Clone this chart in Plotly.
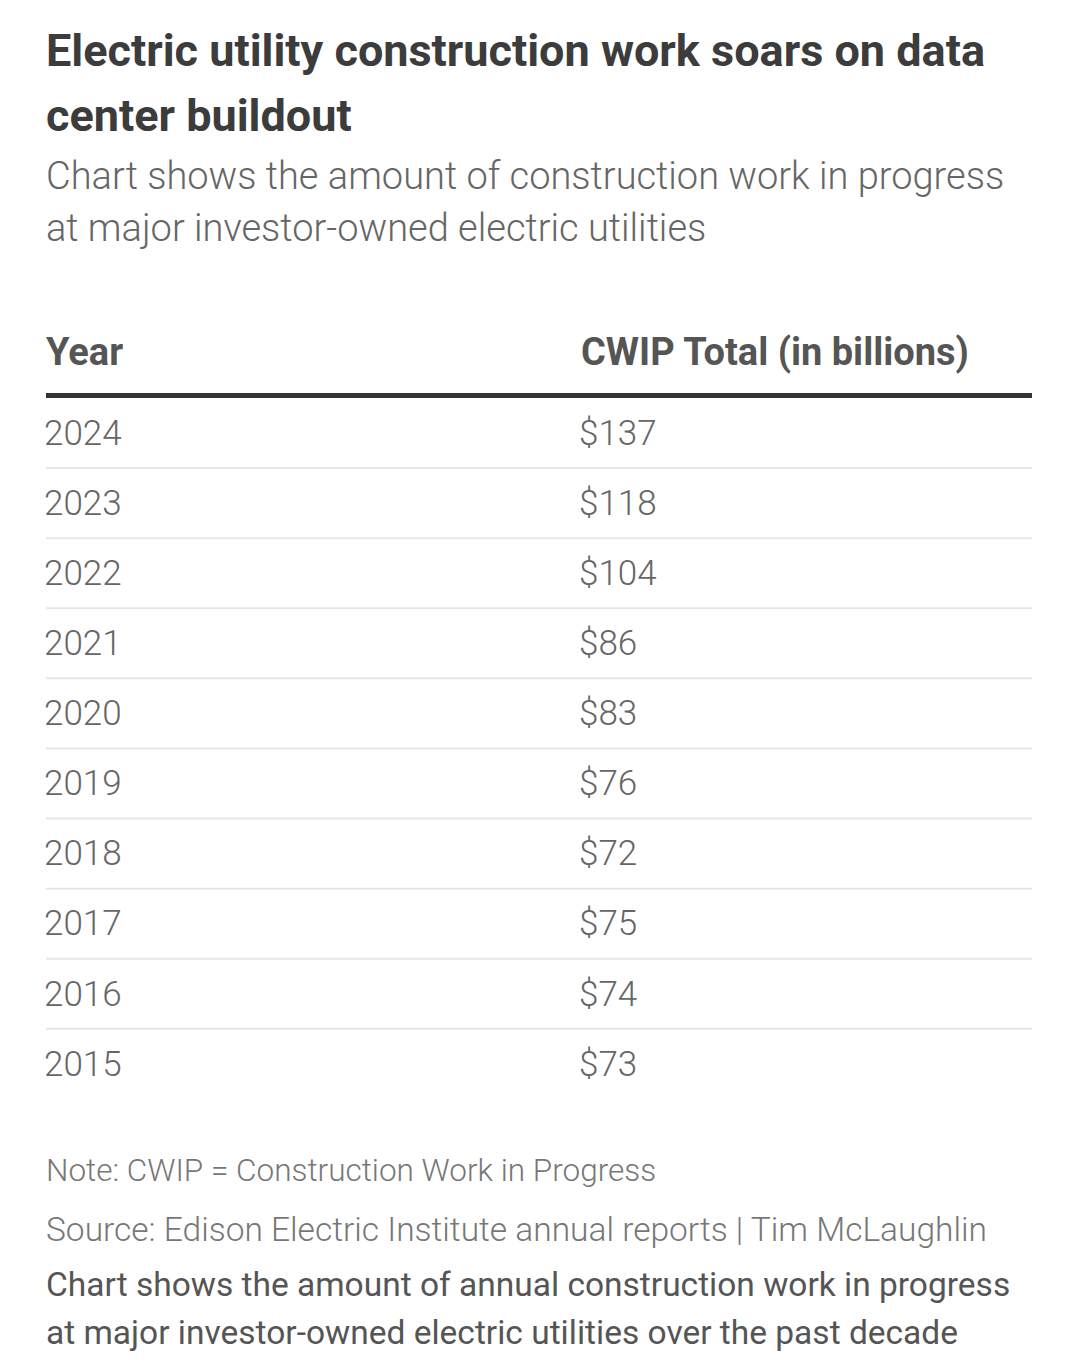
import plotly.graph_objects as go

# Text content
title_lines = ["Electric utility construction work soars on data", "center buildout"]
subtitle_lines = [
    "Chart shows the amount of construction work in progress",
    "at major investor-owned electric utilities",
]
columns = ["Year", "CWIP Total (in billions)"]
years = ["2024", "2023", "2022", "2021", "2020", "2019", "2018", "2017", "2016", "2015"]
cwip_billions = [137, 118, 104, 86, 83, 76, 72, 75, 74, 73]
note = "Note: CWIP = Construction Work in Progress"
source = "Source: Edison Electric Institute annual reports | Tim McLaughlin"
description_lines = [
    "Chart shows the amount of annual construction work in progress",
    "at major investor-owned electric utilities over the past decade",
]

W, H = 1079, 1372
OFF = 8  # page body margin
LEFT, RIGHT = 46 - OFF, 1032 - OFF
TEXT_LEFT = LEFT - 2
COL_GAP = 535
FONT = "Roboto"


def py(px):
    # pixel row in the screenshot -> paper y
    return 1 - (px - OFF) / H


value_labels = [f"${v}" for v in cwip_billions]

fig = go.Figure()
fig.add_trace(go.Scatter(
    x=[columns[0]] * len(years), y=years, mode="text", text=years,
    textposition="middle right",
    textfont=dict(family=FONT, size=35, color="#666666", weight=300),
    hoverinfo="skip", showlegend=False,
))
fig.add_trace(go.Scatter(
    x=[columns[1]] * len(years), y=years, mode="text", text=value_labels,
    textposition="middle right",
    textfont=dict(family=FONT, size=35, color="#666666", weight=300),
    hoverinfo="skip", showlegend=False,
))

row_step = 70.1
first_row_px = 436 - OFF
sep_shift = 3 / row_step  # text sits a little low in its row

# row separators
for i in range(len(years) - 1):
    fig.add_shape(type="line", xref="paper", yref="y",
                  x0=LEFT / W, x1=RIGHT / W,
                  y0=i + 0.5 - sep_shift, y1=i + 0.5 - sep_shift,
                  line=dict(color="#e6e6e6", width=2))
# header rule
fig.add_shape(type="line", xref="paper", yref="paper",
              x0=LEFT / W, x1=RIGHT / W, y0=py(395.5), y1=py(395.5),
              line=dict(color="#333333", width=5))

annotations = []
for col in columns:
    annotations.append(dict(x=col, xref="x", y=py(352), yref="paper", text=col,
                            xanchor="left", yanchor="middle", showarrow=False,
                            font=dict(family=FONT, size=38, color="#555555", weight=700)))


def add_text(text, center_px, size, color, weight):
    annotations.append(dict(x=TEXT_LEFT / W, xref="paper", y=py(center_px), yref="paper", text=text,
                            xanchor="left", yanchor="middle", showarrow=False,
                            font=dict(family=FONT, size=size, color=color, weight=weight)))


for line, ypx in zip(title_lines, [50, 116]):
    add_text(line, ypx, 45, "#3c3c3c", 700)
for line, ypx in zip(subtitle_lines, [176, 228]):
    add_text(line, ypx, 38, "#666666", 300)
add_text(note, 1170, 31.5, "#777777", 300)
add_text(source, 1229, 33.5, "#777777", 300)
for line, ypx in zip(description_lines, [1284, 1332]):
    add_text(line, ypx, 33.5, "#555555", 400)

fig.update_layout(
    width=W, height=H,
    margin=dict(l=0, r=0, t=0, b=0),
    paper_bgcolor="white", plot_bgcolor="white",
    annotations=annotations,
    xaxis=dict(type="category", categoryorder="array", categoryarray=columns,
               range=[-TEXT_LEFT / COL_GAP, (W - TEXT_LEFT) / COL_GAP],
               showgrid=False, zeroline=False, showticklabels=False, showline=False),
    yaxis=dict(type="category", categoryorder="array", categoryarray=years,
               range=[(H - first_row_px) / row_step, -first_row_px / row_step],
               showgrid=False, zeroline=False, showticklabels=False, showline=False),
)

fig.write_html("out.html")
